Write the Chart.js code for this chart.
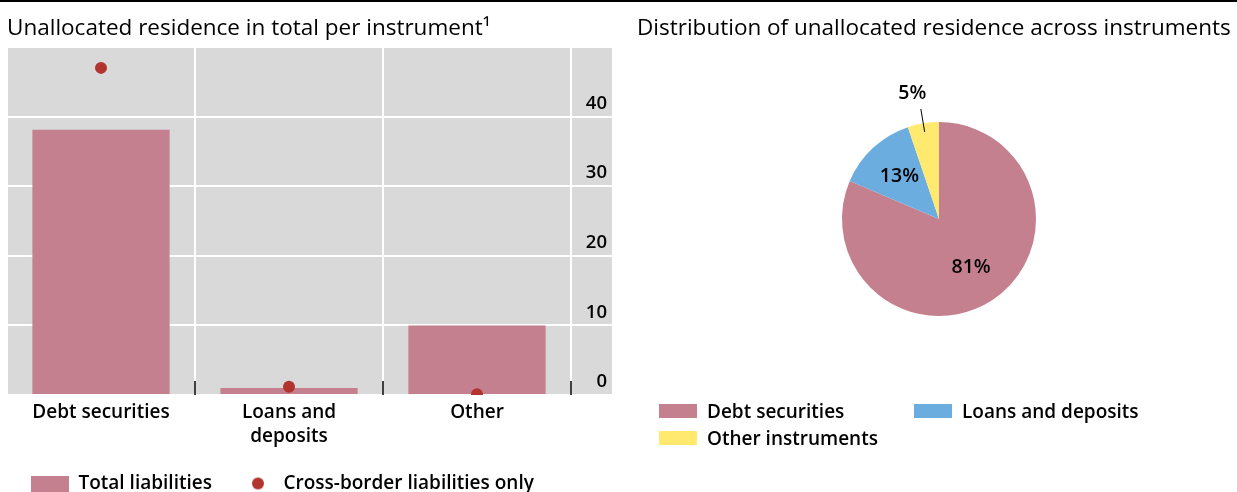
<!DOCTYPE html>
<html>
<head>
<meta charset="utf-8">
<script src="https://cdn.jsdelivr.net/npm/chart.js@4/dist/chart.umd.min.js"></script>
<style>
html,body{margin:0;padding:0;background:#fff;}
body{width:1237px;height:492px;overflow:hidden;position:relative;font-family:"Open Sans",sans-serif;}
#topline{position:absolute;left:0;top:0;width:1237px;height:2px;background:#000;}
#c1{position:absolute;left:0;top:0;}
#c2{position:absolute;left:628px;top:0;}
#legend2{position:absolute;left:659px;top:397px;display:grid;grid-template-columns:255px auto;grid-auto-rows:27px;}
#legend2 .it{display:flex;align-items:center;font-size:19px;font-weight:600;color:#000;white-space:nowrap;}
#legend2 .bx{display:inline-block;width:38px;height:14px;margin-right:10px;}
</style>
</head>
<body>
<div id="topline"></div>
<canvas id="c1" width="622" height="503"></canvas>
<canvas id="c2" width="613" height="492"></canvas>
<div id="legend2"></div>
<script>
// ---- data ----
const barTitle = 'Unallocated residence in total per instrument\u00B9';
const pieTitle = 'Distribution of unallocated residence across instruments';
const categories = [['Debt securities'], ['Loans and', 'deposits'], ['Other']];
const seriesNames = ['Total liabilities', 'Cross-border liabilities only'];
const totalLiabilities = [38.1, 1.0, 10.0];
const crossBorderOnly = [47.0, 1.2, 0.1];
const yTickMin = 0;
const yTickMax = 50;
const yTickStep = 10;
const pieLabels = ['Debt securities', 'Loans and deposits', 'Other instruments'];
const pieShares = [81.4, 13.4, 5.2];

// ---- styles ----
const FONT = '"Open Sans", sans-serif';
const PINK = '#c4808f';
const RED = '#b1342f';
const BLUE = '#6cade0';
const YELLOW = '#ffe96f';
const GRAY = '#d9d9d9';

function boxImg(color, w, h) {
  const c = document.createElement('canvas'); c.width = w; c.height = h;
  const x = c.getContext('2d'); x.fillStyle = color; x.fillRect(0, 0, w, h); return c;
}
function dotImg(color, w, h, cx, r) {
  const c = document.createElement('canvas'); c.width = w; c.height = h;
  const x = c.getContext('2d'); x.fillStyle = color; x.beginPath();
  x.arc(cx, h / 2, r, 0, Math.PI * 2); x.fill(); return c;
}
const legendImgs = [boxImg(PINK, 38, 16), dotImg(RED, 38, 16, 22, 6)];

const bgPlugin = {
  id: 'bg',
  beforeDraw(chart) {
    const {ctx, chartArea} = chart;
    const ys = chart.scales.y;
    ctx.save();
    ctx.fillStyle = GRAY;
    ctx.fillRect(chartArea.left, chartArea.top, ys.right + 5 - chartArea.left, chartArea.bottom - chartArea.top);
    ctx.restore();
  },
  afterDraw(chart) {
    const {ctx, chartArea} = chart;
    const xs = chart.scales.x;
    const n = xs.ticks.length;
    ctx.save();
    ctx.strokeStyle = '#000';
    ctx.lineWidth = 1.5;
    for (let i = 1; i <= n; i++) {
      const px = i < n ? (xs.getPixelForTick(i - 1) + xs.getPixelForTick(i)) / 2 : chartArea.right;
      ctx.beginPath();
      ctx.moveTo(Math.round(px), chartArea.bottom - 14);
      ctx.lineTo(Math.round(px), chartArea.bottom);
      ctx.stroke();
    }
    ctx.restore();
  }
};

new Chart(document.getElementById('c1'), {
  type: 'bar',
  data: {
    labels: categories,
    datasets: [
      { type: 'bar', label: seriesNames[0], data: totalLiabilities, backgroundColor: PINK,
        borderWidth: 0, categoryPercentage: 1, barPercentage: 0.73, order: 1 },
      { type: 'line', label: seriesNames[1], data: crossBorderOnly, showLine: false,
        pointRadius: 6, pointHoverRadius: 6, pointBorderWidth: 0,
        backgroundColor: RED, borderColor: RED, clip: 0, order: 0 }
    ]
  },
  options: {
    responsive: false,
    animation: false,
    events: [],
    layout: { padding: { left: 7, right: 15, top: 0, bottom: 0 } },
    scales: {
      x: {
        offset: true,
        grid: { display: true, offset: true, color: '#fff', lineWidth: 2, drawTicks: false },
        border: { display: false },
        ticks: { color: '#000', padding: 6, font: { family: FONT, size: 19, weight: '600', lineHeight: 1.26 }, maxRotation: 0 },
        afterFit(s) { s.height = 55; }
      },
      y: {
        position: 'right',
        min: yTickMin, max: yTickMax,
        grid: { color: '#fff', lineWidth: 2, drawTicks: true, tickLength: 41, tickColor: '#fff' },
        border: { display: false },
        ticks: {
          stepSize: yTickStep, color: '#000', padding: 0, crossAlign: 'far', labelOffset: -13,
          font: { family: FONT, size: 18.5, weight: '600' },
          callback: v => (v === yTickMax ? '' : String(v))
        },
        afterFit(s) { s.width = 36; }
      }
    },
    plugins: {
      title: {
        display: true, text: barTitle, align: 'start', color: '#000',
        font: { family: FONT, size: 22.5, weight: 'normal', lineHeight: 1.2 },
        padding: { top: 15, bottom: 5 }
      },
      legend: {
        display: true, position: 'bottom', align: 'start',
        labels: {
          usePointStyle: true, pointStyleWidth: 38, boxHeight: 16, padding: 24, color: '#000',
          font: { family: FONT, size: 19, weight: '600' },
          generateLabels(chart) {
            const items = Chart.defaults.plugins.legend.labels.generateLabels(chart);
            items.sort((a, b) => a.datasetIndex - b.datasetIndex);
            items.forEach(it => { it.pointStyle = legendImgs[it.datasetIndex]; });
            return items;
          }
        }
      },
      tooltip: { enabled: false }
    }
  },
  plugins: [bgPlugin]
});

const pieLabelPlugin = {
  id: 'pieLabels',
  afterDatasetsDraw(chart) {
    const {ctx} = chart;
    const meta = chart.getDatasetMeta(0);
    const data = chart.data.datasets[0].data;
    const total = data.reduce((a, b) => a + b, 0);
    ctx.save();
    ctx.fillStyle = '#000';
    ctx.font = '600 19.5px ' + FONT;
    ctx.textAlign = 'center';
    ctx.textBaseline = 'middle';
    meta.data.forEach((arc, i) => {
      const {x, y, startAngle, endAngle, outerRadius} = arc.getProps(['x', 'y', 'startAngle', 'endAngle', 'outerRadius'], true);
      const mid = (startAngle + endAngle) / 2;
      const pct = Math.round(data[i] / total * 100) + '%';
      const cx = Math.cos(mid), cy = Math.sin(mid);
      if (data[i] / total < 0.08) {
        ctx.strokeStyle = '#000'; ctx.lineWidth = 1;
        ctx.beginPath();
        ctx.moveTo(x + cx * outerRadius * 0.91, y + cy * outerRadius * 0.91);
        ctx.lineTo(x + cx * outerRadius * 1.15, y + cy * outerRadius * 1.15);
        ctx.stroke();
        ctx.fillText(pct, x + cx * outerRadius * 1.31 - 6, y + cy * outerRadius * 1.31);
      } else {
        const f = 0.6;
        ctx.fillText(pct, x + cx * outerRadius * f, y + cy * outerRadius * f);
      }
    });
    ctx.restore();
  }
};

const pieColors = [PINK, BLUE, YELLOW];
new Chart(document.getElementById('c2'), {
  type: 'pie',
  data: { labels: pieLabels, datasets: [{ data: pieShares, backgroundColor: pieColors, borderWidth: 0 }] },
  options: {
    responsive: false,
    animation: false,
    events: [],
    layout: { padding: { left: 9, right: 0, top: 0, bottom: 176 } },
    plugins: {
      title: {
        display: true, text: pieTitle, align: 'start', color: '#000',
        font: { family: FONT, size: 22.5, weight: 'normal', lineHeight: 1.2 },
        padding: { top: 15, bottom: 80 }
      },
      legend: { display: false },
      tooltip: { enabled: false }
    }
  },
  plugins: [pieLabelPlugin]
});

const lg = document.getElementById('legend2');
pieLabels.forEach((t, i) => {
  const d = document.createElement('div'); d.className = 'it';
  const b = document.createElement('span'); b.className = 'bx'; b.style.background = pieColors[i];
  d.appendChild(b); d.appendChild(document.createTextNode(t)); lg.appendChild(d);
});
</script>
</body>
</html>
